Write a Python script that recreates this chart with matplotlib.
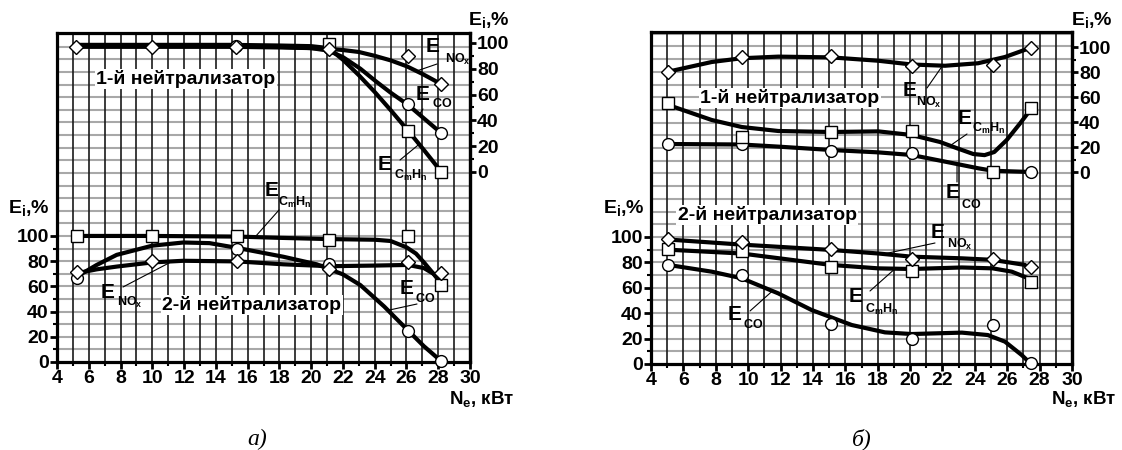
import numpy as np
import matplotlib
matplotlib.use('Agg')
import matplotlib.pyplot as plt
from matplotlib.ticker import MultipleLocator, FixedLocator

plt.rcParams['font.family'] = ['Liberation Sans', 'DejaVu Sans']
plt.rcParams['mathtext.fontset'] = 'custom'
plt.rcParams['mathtext.bf'] = 'Liberation Sans:bold'
plt.rcParams['mathtext.rm'] = 'Liberation Sans'
plt.rcParams['mathtext.it'] = 'Liberation Sans:italic'

# ---------------- data: panel a) ----------------
# 1st neutralizer (right axis) - markers
a1_nox_mx = [5.2, 10.0, 15.3, 21.1, 26.1, 28.2]
a1_nox_my = [97, 97, 97, 95.5, 90, 68]
a1_co_mx = [15.3, 21.1, 26.1, 28.2]
a1_co_my = [97.5, 96, 53, 30]
a1_ch_mx = [21.1, 26.1, 28.2]
a1_ch_my = [99, 31.5, 0]
# 1st neutralizer - fitted curves
a1_nox_cx = [5.2, 10, 15, 18, 21, 22, 23, 24, 25, 26, 27, 28.2]
a1_nox_cy = [97.5, 97.5, 97.5, 97, 95.5, 94.5, 93, 90, 86.5, 82, 76, 68]
a1_co_cx = [5.2, 10, 15, 18, 20, 21.1, 22, 23.1, 24.1, 25, 26.1, 27.1, 28.2]
a1_co_cy = [97, 97, 97, 96.5, 96, 94, 89, 80, 70, 61.5, 52, 41.5, 30]
a1_ch_cx = [5.2, 10, 15, 18, 20, 21.1, 22, 23, 24, 25, 26.1, 27.1, 28.2]
a1_ch_cy = [98.5, 98.5, 98.5, 98, 97.5, 96, 87, 75, 62, 48, 32, 17, 0]

# 2nd neutralizer (left axis) - markers
a2_ch_mx = [5.28, 10.0, 15.35, 21.15, 26.1, 28.2]
a2_ch_my = [100, 100, 100, 97, 100, 61]
a2_nox_mx = [5.28, 10.0, 15.35, 21.15, 26.1, 28.2]
a2_nox_my = [71.5, 80.5, 80, 73.5, 79.5, 70.5]
a2_co_mx = [5.28, 15.35, 21.15, 26.1, 28.2]
a2_co_my = [67, 90, 77.5, 24.5, 1]
# 2nd neutralizer - curves
a2_ch_cx = [5.28, 10, 15.35, 18, 21.15, 24, 25, 26, 26.6, 27.1, 27.7, 28.2]
a2_ch_cy = [100, 100, 99.5, 98.5, 97.5, 97, 96, 91, 86, 79, 70, 62]
a2_nox_cx = [5.28, 6.5, 7.76, 10, 11.95, 15.35, 18.25, 21.15, 24, 26.1, 27.1, 27.7, 28.2]
a2_nox_cy = [70.5, 73.5, 75.7, 79, 80.3, 79.8, 77.5, 76, 76.5, 77, 74.5, 70, 65]
a2_co_cx = [5.28, 6.5, 7.76, 10, 11.95, 13.6, 15.35, 18.25, 20.35, 22, 23.1, 24.6, 26.1, 27.1, 28.2]
a2_co_cy = [68, 77, 85, 92.3, 94.8, 94.3, 90.5, 83.5, 77.5, 69.5, 61, 44, 25, 12.5, 0.5]

# ---------------- data: panel б) ----------------
b1_nox_mx = [5.07, 9.6, 15.12, 20.1, 25.1, 27.47]
b1_nox_my = [80.3, 92.3, 93, 85, 85.6, 99.5]
b1_ch_mx = [5.07, 9.6, 15.12, 20.1, 25.1, 27.47]
b1_ch_my = [55, 28, 31.7, 32.8, 0, 51]
b1_co_mx = [5.07, 9.6, 15.12, 20.1, 27.47]
b1_co_my = [22.4, 22.4, 17, 15.5, 0]
b1_nox_cx = [5.07, 7.75, 9.6, 11.86, 15.12, 18.04, 20.1, 22.16, 24.2, 25.86, 27.47]
b1_nox_cy = [80.3, 88, 91, 92.3, 91.7, 89, 86, 85, 87, 92, 99.5]
b1_ch_cx = [5.07, 7.75, 9.6, 11.86, 15.12, 18.04, 20.1, 21.85, 22.9, 23.9, 24.6, 25.2, 25.97, 26.8, 27.5]
b1_ch_cy = [53.6, 41.6, 36, 32.8, 32, 32.5, 29.6, 24, 19, 14.4, 13.5, 16, 25.6, 39, 51]
b1_co_cx = [5.07, 9.6, 11.86, 15.12, 18.04, 20.1, 22.16, 24.2, 25.1, 27.47]
b1_co_cy = [22.4, 22, 20.3, 17.6, 15.7, 13.6, 8.3, 3, 1, 0]

b2_nox_mx = [5.07, 9.6, 15.12, 20.1, 25.1, 27.47]
b2_nox_my = [98.2, 95.8, 90.3, 82.7, 82.7, 76]
b2_ch_mx = [5.07, 9.6, 15.12, 20.1, 27.47]
b2_ch_my = [90.3, 89, 76.6, 73.2, 64.8]
b2_co_mx = [5.07, 9.6, 15.12, 20.1, 25.1, 27.47]
b2_co_my = [78, 70, 31.5, 19.7, 30.7, 0.5]
b2_nox_cx = [5.07, 9.6, 15.12, 18.04, 20.1, 23.2, 25.1, 27.1]
b2_nox_cy = [98, 94, 89.8, 87, 84.5, 83.2, 82, 78]
b2_ch_cx = [5.07, 9.6, 15.12, 18.04, 20.1, 23.2, 25.1, 26.28, 27.3]
b2_ch_cy = [90, 87, 78, 75.3, 74.8, 76, 75.3, 72.7, 67.5]
b2_co_cx = [5.07, 7.75, 9.6, 11.86, 13.92, 16.4, 18.45, 20.1, 23.2, 24.8, 25.86, 26.9, 27.47]
b2_co_cy = [78, 72.7, 67.5, 55.6, 42.5, 30.7, 24.9, 23.6, 24.7, 22.8, 17.6, 7, 0]

x_ticks = list(range(4, 31, 2))
y_ticks = [0, 20, 40, 60, 80, 100]

W, H = 1122, 450


def fp(x, y):
    # pixel position (from top-left) -> figure fraction
    return (x / W, 1 - y / H)


fig = plt.figure(figsize=(W / 100, H / 100), dpi=100)
fig.patch.set_facecolor('white')


def make_panel(rect, left_top, right_lim):
    ax = fig.add_axes(rect)
    ax.set_xlim(4, 30)
    ax.set_ylim(0, left_top)
    for gx in range(5, 30):
        ax.axvline(gx, color='#1a1a1a', lw=1.2, zorder=1)
    for gy in np.arange(10, left_top, 10):
        ax.axhline(gy, color='#a8a8a8', lw=1.5, zorder=0.9)
    ax.xaxis.set_major_locator(FixedLocator(x_ticks))
    ax.xaxis.set_minor_locator(MultipleLocator(1))
    ax.yaxis.set_major_locator(FixedLocator(y_ticks))
    ax.yaxis.set_minor_locator(FixedLocator(range(10, 100, 20)))
    ax.tick_params(which='major', direction='out', length=5, width=2, pad=1,
                   labelsize=14)
    ax.tick_params(which='minor', direction='out', length=3, width=1.5)
    for lab in ax.get_xticklabels() + ax.get_yticklabels():
        lab.set_fontweight('bold')
    for sp in ax.spines.values():
        sp.set_linewidth(2.3)

    ax2 = ax.twinx()
    ax2.set_ylim(*right_lim)
    ax2.yaxis.set_major_locator(FixedLocator(y_ticks))
    ax2.yaxis.set_minor_locator(FixedLocator(range(10, 100, 20)))
    ax2.tick_params(which='major', direction='out', length=4, width=2, pad=1,
                    labelsize=14)
    ax2.tick_params(which='minor', direction='out', length=3, width=1.5)
    for lab in ax2.get_yticklabels():
        lab.set_fontweight('bold')
    for name, sp in ax2.spines.items():
        sp.set_visible(name == 'right')
        sp.set_linewidth(2.3)
    return ax, ax2


def curve(ax, cx, cy):
    ax.plot(cx, cy, color='black', lw=3, solid_capstyle='round',
            solid_joinstyle='round', zorder=3)


def marks(ax, mx, my, m, ms):
    ax.plot(mx, my, ls='none', marker=m, ms=ms, mfc='white', mec='black',
            mew=1.0, zorder=4, clip_on=False)


def elabel(ax, e_xy, sub, sub_xy, tip, tail):
    fig.text(*fp(*e_xy), 'E', fontsize=15, fontweight='bold',
             ha='center', va='center')
    fig.text(*fp(*sub_xy), sub, fontsize=9, ha='left', va='center')
    ax.annotate('', xy=tip, xycoords='data', xytext=fp(*tail),
                textcoords='figure fraction',
                arrowprops=dict(arrowstyle='-', lw=0.8, color='black',
                                shrinkA=0, shrinkB=0))


NOX = r'$\mathbf{NO_x}$'
CO = r'$\mathbf{CO}$'
CH = r'$\mathbf{C_mH_n}$'

# ---------------- panel a) ----------------
axA, axA2 = make_panel([57 / W, 88 / H, 413 / W, 329 / H], 261, (-147.3, 107.7))

curve(axA2, a1_ch_cx, a1_ch_cy)
curve(axA2, a1_co_cx, a1_co_cy)
curve(axA2, a1_nox_cx, a1_nox_cy)
marks(axA2, a1_co_mx, a1_co_my, 'o', 8.5)
marks(axA2, a1_ch_mx, a1_ch_my, 's', 8.5)
marks(axA2, a1_nox_mx, a1_nox_my, 'D', 7)

curve(axA, a2_ch_cx, a2_ch_cy)
curve(axA, a2_nox_cx, a2_nox_cy)
curve(axA, a2_co_cx, a2_co_cy)
marks(axA, a2_co_mx, a2_co_my, 'o', 8.5)
marks(axA, a2_ch_mx, a2_ch_my, 's', 8.5)
marks(axA, a2_nox_mx, a2_nox_my, 'D', 7)

elabel(axA2, (433, 47), NOX, (445, 59), (26.7, 78.5), (437, 64))
elabel(axA2, (423, 95), CO, (432, 104), (26.8, 44.5), (423, 109))
elabel(axA2, (385, 165), CH, (394, 175), (26.75, 21), (400, 160))
elabel(axA, (272, 190), CH, (278, 202), (16.5, 99.6), (279, 210))
elabel(axA, (108, 293), NOX, (117, 302), (11.3, 80.2), (123, 287))
elabel(axA, (407, 288), CO, (415, 299), (24.84, 41), (417, 304))

# ---------------- panel б) ----------------
axB, axB2 = make_panel([651 / W, 86 / H, 421 / W, 332 / H], 261.4, (-153.6, 112))

curve(axB2, b1_nox_cx, b1_nox_cy)
curve(axB2, b1_ch_cx, b1_ch_cy)
curve(axB2, b1_co_cx, b1_co_cy)
marks(axB2, b1_co_mx, b1_co_my, 'o', 8.5)
marks(axB2, b1_ch_mx, b1_ch_my, 's', 8.5)
marks(axB2, b1_nox_mx, b1_nox_my, 'D', 7)

curve(axB, b2_nox_cx, b2_nox_cy)
curve(axB, b2_ch_cx, b2_ch_cy)
curve(axB, b2_co_cx, b2_co_cy)
marks(axB, b2_co_mx, b2_co_my, 'o', 8.5)
marks(axB, b2_ch_mx, b2_ch_my, 's', 8.5)
marks(axB, b2_nox_mx, b2_nox_my, 'D', 7)

elabel(axB2, (910, 90), NOX, (916, 102), (22.0, 85), (927, 88))
elabel(axB2, (965, 118), CH, (972, 128), (22.47, 21), (967, 134))
elabel(axB2, (953, 193), CO, (961, 204), (22.9, 6.5), (957, 182))
elabel(axB, (938, 233), NOX, (947, 244), (18.33, 86.5), (935, 243))
elabel(axB, (856, 297), CH, (865, 309), (19.07, 75), (870, 291))
elabel(axB, (735, 315), CO, (743, 324), (11.5, 57.5), (750, 311))

# neutralizer captions
box = dict(facecolor='white', edgecolor='none', pad=1.0)
for (tx, ty), s in [((186, 79), '1-й нейтрализатор'),
                    ((252, 305), '2-й нейтрализатор'),
                    ((790, 98), '1-й нейтрализатор'),
                    ((767, 215), '2-й нейтрализатор')]:
    fig.text(*fp(tx, ty), s, fontsize=14, fontweight='bold',
             ha='center', va='center', bbox=box)

# axis titles
ei = r'E$_{\mathbf{i}}$,%'
ne = r'N$_{\mathbf{e}}$, кВт'
for (tx, ty) in [(8, 208), (468, 20), (603, 208), (1071, 20)]:
    fig.text(*fp(tx, ty), ei, fontsize=14, fontweight='bold',
             ha='left', va='center')
for (tx, ty) in [(449, 399), (1051, 399)]:
    fig.text(*fp(tx, ty), ne, fontsize=13.5, fontweight='bold',
             ha='left', va='center')

fig.text(*fp(257, 439), 'а)', fontsize=17, style='italic',
         family='Liberation Serif', ha='center', va='center')
fig.text(*fp(862, 439), 'б)', fontsize=17, style='italic',
         family='Liberation Serif', ha='center', va='center')

fig.savefig('out.png', dpi=100)
